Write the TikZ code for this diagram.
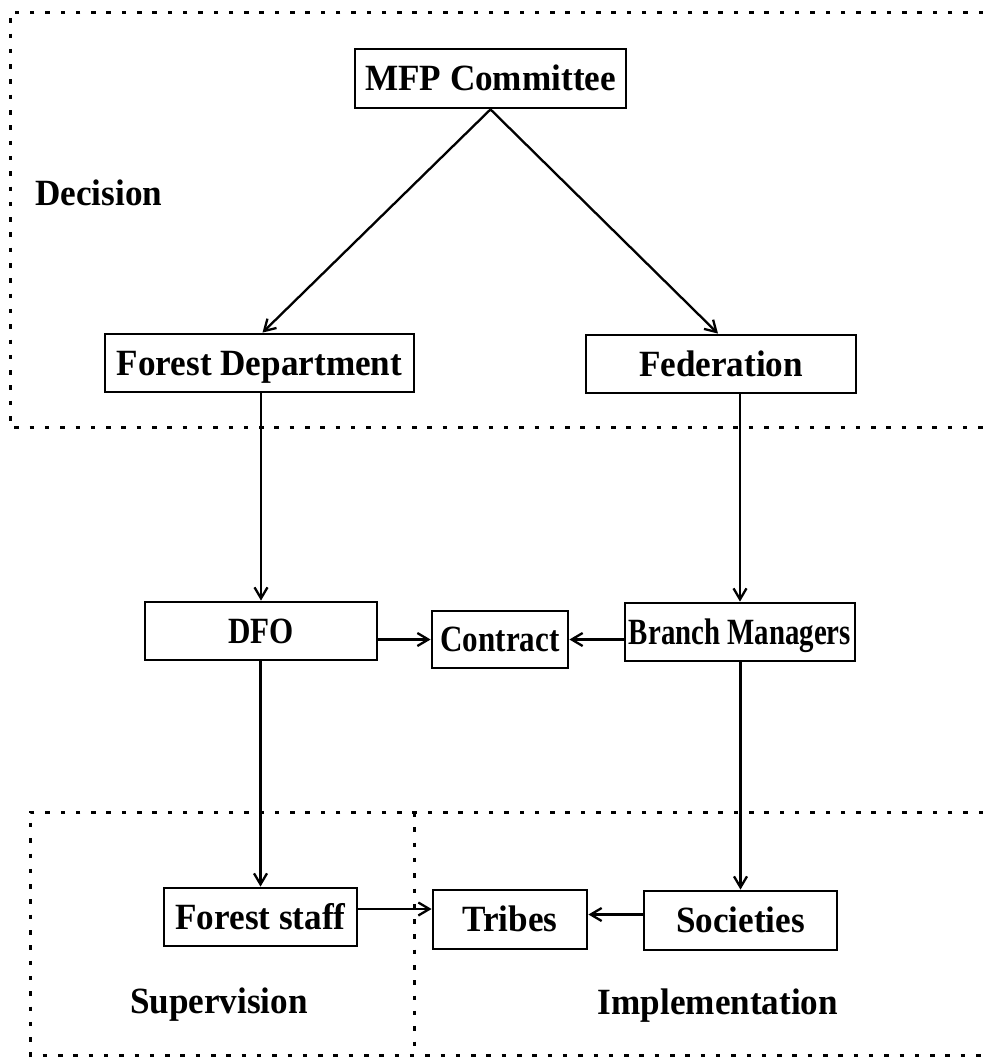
\documentclass[tikz,border=0pt]{standalone}
\usepackage{fontspec}
\setmainfont{Liberation Serif}
\usetikzlibrary{arrows.meta,calc}
% horizontally condensed text, as in the printed chart
\newcommand\cond[2][0.95]{\scalebox{#1}[1]{#2}}

\begin{document}
\begin{tikzpicture}[x=1pt,y=-1pt,
  lbl/.style={font=\fontsize{37}{42}\selectfont\bfseries, inner sep=0pt},
  unit/.style={draw, line width=2.8pt, inner sep=0pt,
    font=\fontsize{37}{42}\selectfont\bfseries,
    text height=24.5pt, text depth=0pt},
  arr/.style={line width=2.3pt, -{Straight Barb[length=11pt,width=13pt,line width=2.3pt]}},
  zone/.style={line width=3pt, dash pattern=on 4.5pt off 10.8pt}
]
\useasboundingbox (0,0) rectangle (983,1058);

% dotted zones
\draw[zone] (983,12) -- (10,12) -- (10,427) -- (983,427);
\draw[zone] (983,812) -- (30,812) -- (30,1055) -- (983,1055);
\draw[zone] (414,812) -- (414,1055);

% zone labels
\node[lbl, anchor=base west] (decision) at (35,205) {\cond{Decision}};
\node[lbl, anchor=base] (supervision) at (219,1013) {\cond{Supervision}};
\node[lbl, anchor=base] (implementation) at (718,1014) {\cond{Implementation}};

% units
\node[unit, minimum width=271pt, minimum height=59pt] (mfp) at (490.5,78.5) {\cond{MFP Committee}};
\node[unit, minimum width=309pt, minimum height=58pt] (fd) at (259.5,363) {\cond{Forest Department}};
\node[unit, minimum width=270pt, minimum height=58pt] (fed) at (721,364) {\cond{Federation}};
\node[unit, minimum width=232pt, minimum height=58pt] (dfo) at (261,631) {\cond[0.84]{DFO}};
\node[unit, minimum width=136pt, minimum height=57pt] (contract) at (500,639.5) {\cond[0.84]{Contract}};
\node[unit, minimum width=230pt, minimum height=58pt] (bm) at (740,632) {\cond[0.78]{Branch Managers}};
\node[unit, minimum width=193pt, minimum height=58pt] (fs) at (260.5,917) {\cond{Forest staff}};
\node[unit, minimum width=154pt, minimum height=59pt] (tribes) at (510,919.5) {\cond{Tribes}};
\node[unit, minimum width=193pt, minimum height=59pt] (soc) at (740.5,920.5) {\cond{Societies}};

% connectors
\draw[arr] (mfp.south) -- ([xshift=3pt]fd.north);
\draw[arr] (mfp.south) -- ([xshift=-3pt]fed.north);
\draw[arr] (dfo.north |- fd.south) -- (dfo.north);
\draw[arr] (bm.north |- fed.south) -- (bm.north);
\draw[arr] (contract.west -| dfo.east) -- (contract.west);
\draw[arr] (contract.east -| bm.west) -- (contract.east);
\draw[arr] (fs.north |- dfo.south) -- (fs.north);
\draw[arr] (soc.north |- bm.south) -- (soc.north);
\coordinate (fsout) at ([yshift=8pt]fs.east);
\coordinate (socout) at ([yshift=6pt]soc.west);
\draw[arr] (fsout) -- (fsout -| tribes.west);
\draw[arr] (socout) -- (socout -| tribes.east);
\end{tikzpicture}
\end{document}
